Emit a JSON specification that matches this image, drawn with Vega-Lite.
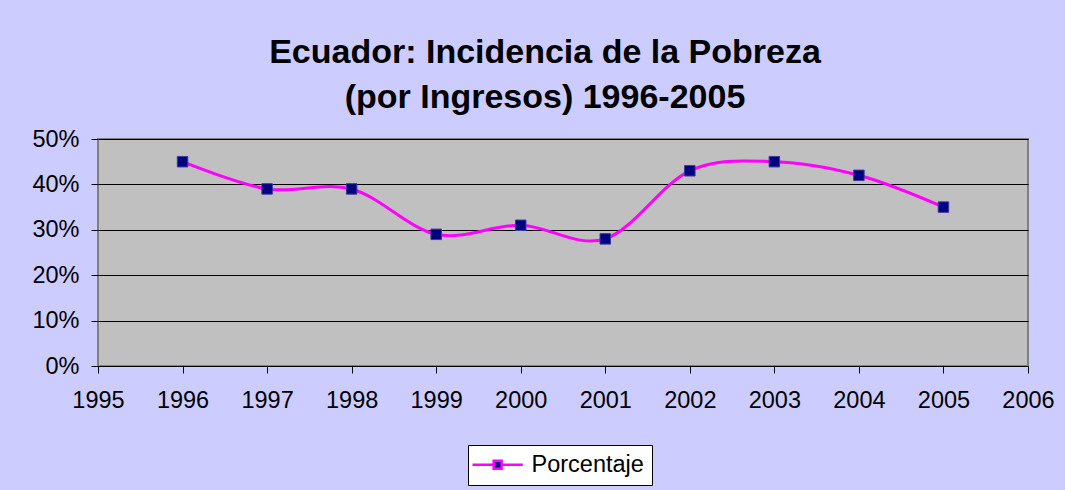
{
  "$schema": "https://vega.github.io/schema/vega-lite/v6.json",
  "autosize": "none",
  "width": 930,
  "height": 227,
  "padding": {"left": 98, "top": 139, "right": 37, "bottom": 124},
  "background": "#CCCCFF",
  "title": {
    "text": ["Ecuador: Incidencia de la Pobreza", "(por Ingresos) 1996-2005"],
    "font": "Liberation Sans",
    "fontSize": 34,
    "fontWeight": "bold",
    "color": "#000000",
    "lineHeight": 45,
    "anchor": "middle",
    "frame": "group",
    "dx": -18,
    "offset": 12
  },
  "config": {
    "view": {"fill": "#C0C0C0", "stroke": "#808080", "strokeWidth": 2},
    "axis": {
      "labelFont": "Liberation Sans",
      "labelFontSize": 23.5,
      "labelColor": "#000000",
      "tickColor": "#000000",
      "domainColor": "#808080"
    }
  },
  "data": {
    "values": [
      {"year": 1996, "pct": 0.45, "serie": "Porcentaje"},
      {"year": 1997, "pct": 0.39, "serie": "Porcentaje"},
      {"year": 1998, "pct": 0.39, "serie": "Porcentaje"},
      {"year": 1999, "pct": 0.29, "serie": "Porcentaje"},
      {"year": 2000, "pct": 0.31, "serie": "Porcentaje"},
      {"year": 2001, "pct": 0.28, "serie": "Porcentaje"},
      {"year": 2002, "pct": 0.43, "serie": "Porcentaje"},
      {"year": 2003, "pct": 0.45, "serie": "Porcentaje"},
      {"year": 2004, "pct": 0.42, "serie": "Porcentaje"},
      {"year": 2005, "pct": 0.35, "serie": "Porcentaje"}
    ]
  },
  "encoding": {
    "x": {
      "field": "year",
      "type": "quantitative",
      "scale": {"domain": [1995, 2006], "nice": false, "zero": false},
      "axis": {
        "title": null,
        "format": "d",
        "values": [1995, 1996, 1997, 1998, 1999, 2000, 2001, 2002, 2003, 2004, 2005, 2006],
        "grid": false,
        "tickSize": 7,
        "labelPadding": 15,
        "labelFlush": false,
        "labelOverlap": false,
        "domain": false
      }
    },
    "y": {
      "field": "pct",
      "type": "quantitative",
      "scale": {"domain": [0, 0.5], "nice": false},
      "axis": {
        "title": null,
        "format": ".0%",
        "values": [0, 0.1, 0.2, 0.3, 0.4, 0.5],
        "grid": true,
        "gridColor": "#000000",
        "gridWidth": 1,
        "gridOpacity": 1,
        "tickSize": 7,
        "labelPadding": 12,
        "labelFlush": false,
        "domain": false
      }
    }
  },
  "layer": [
    {
      "mark": {"type": "line", "interpolate": "cardinal", "strokeWidth": 3},
      "encoding": {
        "color": {
          "field": "serie",
          "type": "nominal",
          "scale": {"range": ["#FF00FF"]},
          "legend": {
            "title": null,
            "orient": "none",
            "legendX": 370,
            "legendY": 306,
            "direction": "vertical",
            "fillColor": "#FFFFFF",
            "strokeColor": "#000000",
            "padding": 8,
            "labelFont": "Liberation Sans",
            "labelFontSize": 23.5,
            "labelColor": "#000000",
            "labelOffset": 32,
            "symbolType": "M-2.3,0H0.9M2.1,0H5.3M0.9,-0.6H2.1V0.6H0.9Z",
            "symbolSize": 175,
            "symbolStrokeColor": "#FF00FF",
            "symbolFillColor": "#000080",
            "symbolStrokeWidth": 2.5,
            "symbolOpacity": 1
          }
        }
      }
    },
    {
      "mark": {"type": "point", "shape": "square", "filled": true, "size": 110, "color": "#000080", "stroke": "#3a3aa0", "strokeWidth": 1, "opacity": 1}
    }
  ]
}
